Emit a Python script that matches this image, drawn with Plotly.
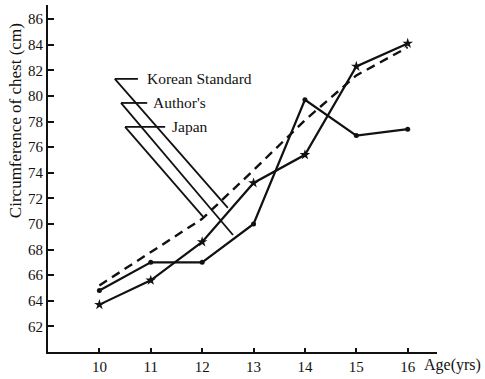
import plotly.graph_objects as go

ages = [10, 11, 12, 13, 14, 15, 16]
korean_standard = [63.7, 65.6, 68.6, 73.2, 75.4, 82.3, 84.1]
authors = [64.8, 67.0, 67.0, 70.0, 79.7, 76.9, 77.4]
japan = [65.2, 67.8, 70.4, 74.2, 78.1, 81.6, 83.8]
y_ticks = list(range(62, 87, 2))

SERIF = "Liberation Serif"
INK = "#111111"

fig = go.Figure()
fig.add_trace(go.Scatter(x=ages, y=japan, mode="lines",
                         line=dict(color=INK, width=2.4, dash="9px,6px"),
                         name="Japan"))
fig.add_trace(go.Scatter(x=ages, y=korean_standard, mode="lines+markers",
                         line=dict(color=INK, width=2.2),
                         marker=dict(symbol="star", size=8, color=INK),
                         name="Korean Standard"))
fig.add_trace(go.Scatter(x=ages, y=authors, mode="lines+markers",
                         line=dict(color=INK, width=2.2),
                         marker=dict(symbol="circle", size=5, color=INK),
                         name="Author's"))

# leader lines: (label, start x, start y, knee x, tip x, tip y, text x)
leaders = [
    ("Korean Standard", 10.30, 81.33, 10.75, 12.50, 71.25, 10.88),
    ("Author's", 10.42, 79.45, 10.93, 12.60, 69.14, 11.00),
    ("Japan", 10.50, 77.58, 11.28, 12.02, 70.55, 11.38),
]
shapes = []
annotations = []
for text, x0, y0, xh, xt, yt, xl in leaders:
    shapes.append(dict(type="line", x0=x0, y0=y0, x1=xh, y1=y0,
                       line=dict(color=INK, width=1.8)))
    shapes.append(dict(type="line", x0=x0, y0=y0, x1=xt, y1=yt,
                       line=dict(color=INK, width=1.8)))
    annotations.append(dict(x=xl, y=y0, text=text, showarrow=False,
                            xanchor="left", yanchor="middle",
                            font=dict(family=SERIF, size=15.5, color=INK)))

annotations.append(dict(x=-0.085, y=0.668, xref="paper", yref="paper",
                        text="Circumference of chest (cm)", textangle=-90,
                        showarrow=False, xanchor="center", yanchor="middle",
                        font=dict(family=SERIF, size=17, color=INK)))
annotations.append(dict(x=0.962, y=-0.037, xref="paper", yref="paper",
                        text="Age(yrs)", showarrow=False,
                        xanchor="left", yanchor="middle",
                        font=dict(family=SERIF, size=16, color=INK)))

fig.update_layout(
    width=485, height=379,
    margin=dict(l=48, r=48, t=5, b=27),
    paper_bgcolor="white", plot_bgcolor="white",
    showlegend=False,
    shapes=shapes,
    annotations=annotations,
    xaxis=dict(range=[9, 16.57], tickvals=ages, ticktext=[str(a) for a in ages],
               showgrid=False, zeroline=False, showline=True,
               linecolor=INK, linewidth=2, ticks="inside", ticklen=4,
               tickwidth=1.5, tickcolor=INK,
               tickfont=dict(family=SERIF, size=15, color=INK)),
    yaxis=dict(range=[60, 87.1], tickvals=y_ticks,
               showgrid=False, zeroline=False, showline=True,
               linecolor=INK, linewidth=2, ticks="inside", ticklen=6,
               tickwidth=1.5, tickcolor=INK,
               tickfont=dict(family=SERIF, size=15, color=INK)),
)

fig.write_html("out.html")
